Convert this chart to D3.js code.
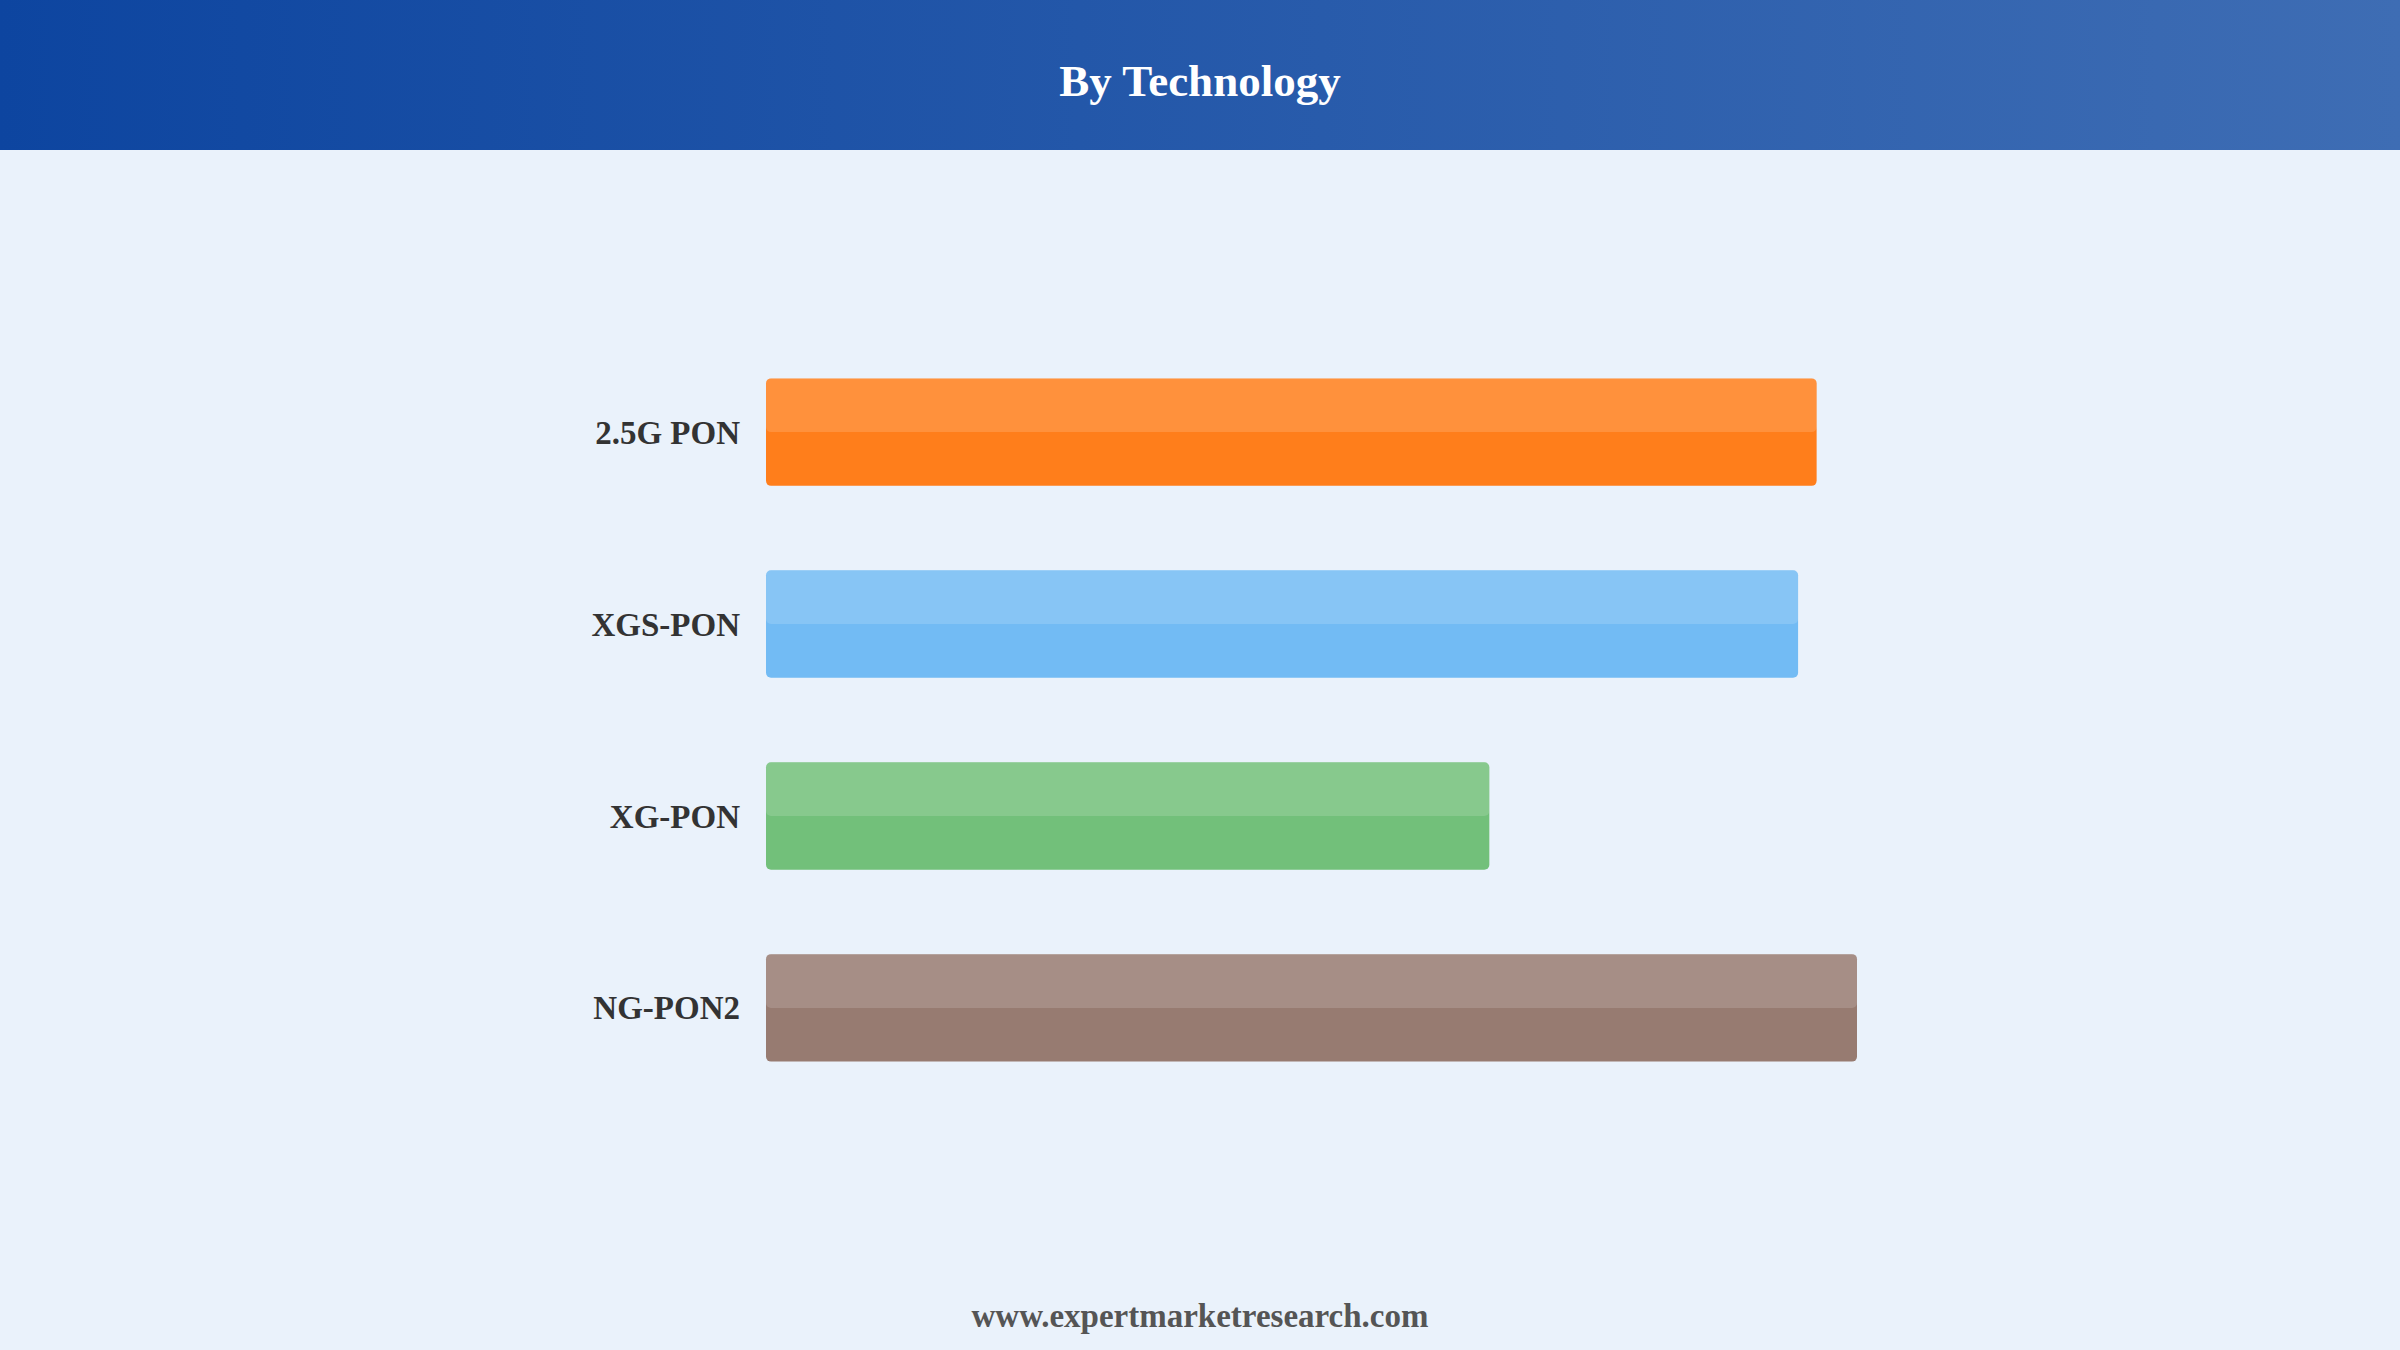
<!DOCTYPE html>
<html>
<head>
<meta charset="utf-8">
<script src="https://cdn.jsdelivr.net/npm/d3@7"></script>
<style>
  html, body { margin: 0; padding: 0; background: #eaf2fb; }
  svg { display: block; }
</style>
</head>
<body>
<script>
const w = 2400;
const h = 1350;

// values (relative, longest = 100)
const categories = ["2.5G PON", "XGS-PON", "XG-PON", "NG-PON2"];
const values = [96.3, 94.6, 66.3, 100];
const colors = ["#ff7e1b", "#72bbf4", "#72c07a", "#977b71"];

let dataset = categories.map((c, i) => ({ name: c, value: values[i], color: colors[i] }));

let svg = d3.select("body")
            .append("svg")
                .attr("width", w)
                .attr("height", h);

// background
svg.append("rect")
    .attr("width", w)
    .attr("height", h)
    .attr("fill", "#eaf2fb");

// header band with gradient
let grad = svg.append("defs")
    .append("linearGradient")
        .attr("id", "headGrad")
        .attr("x1", "0%").attr("x2", "100%")
        .attr("y1", "0%").attr("y2", "0%");
grad.append("stop").attr("offset", "0%").attr("stop-color", "#0d45a0");
grad.append("stop").attr("offset", "100%").attr("stop-color", "#3e6db4");

svg.append("rect")
    .attr("width", w)
    .attr("height", 150)
    .attr("fill", "url(#headGrad)");

svg.append("text")
    .attr("x", w / 2)
    .attr("y", 96)
    .attr("text-anchor", "middle")
    .attr("font-family", "'Liberation Serif', 'Times New Roman', serif")
    .attr("font-weight", "bold")
    .attr("font-size", 45)
    .attr("fill", "#ffffff")
    .text("By Technology");

let x = d3.scaleLinear()
    .domain([0, 100])
    .range([766, 1857]);

let y = d3.scaleBand()
    .domain(categories)
    .range([150, 1290])
    .paddingInner(0.44)
    .paddingOuter(1.19);

function draw() {
    let g = svg.selectAll("g.bar")
        .data(dataset)
        .enter()
        .append("g")
        .attr("class", "bar");

    g.append("rect")
        .attr("x", x(0))
        .attr("y", (d) => y(d.name))
        .attr("width", (d) => x(d.value) - x(0))
        .attr("height", y.bandwidth())
        .attr("rx", 5)
        .attr("fill", (d) => d.color);

    // lighter top half
    g.append("rect")
        .attr("x", x(0))
        .attr("y", (d) => y(d.name))
        .attr("width", (d) => x(d.value) - x(0))
        .attr("height", y.bandwidth() / 2)
        .attr("rx", 5)
        .attr("fill", "#ffffff")
        .attr("fill-opacity", 0.15);

    g.append("text")
        .attr("x", x(0) - 26)
        .attr("y", (d) => y(d.name) + y.bandwidth() / 2)
        .attr("dy", "0.35em")
        .attr("text-anchor", "end")
        .attr("font-family", "'Liberation Serif', 'Times New Roman', serif")
        .attr("font-weight", "bold")
        .attr("font-size", 33)
        .attr("fill", "#333333")
        .text((d) => d.name);
}

draw();

svg.append("text")
    .attr("x", w / 2)
    .attr("y", 1327)
    .attr("text-anchor", "middle")
    .attr("font-family", "'Liberation Serif', 'Times New Roman', serif")
    .attr("font-weight", "bold")
    .attr("font-size", 33)
    .attr("fill", "#555555")
    .text("www.expertmarketresearch.com");
</script>
</body>
</html>
